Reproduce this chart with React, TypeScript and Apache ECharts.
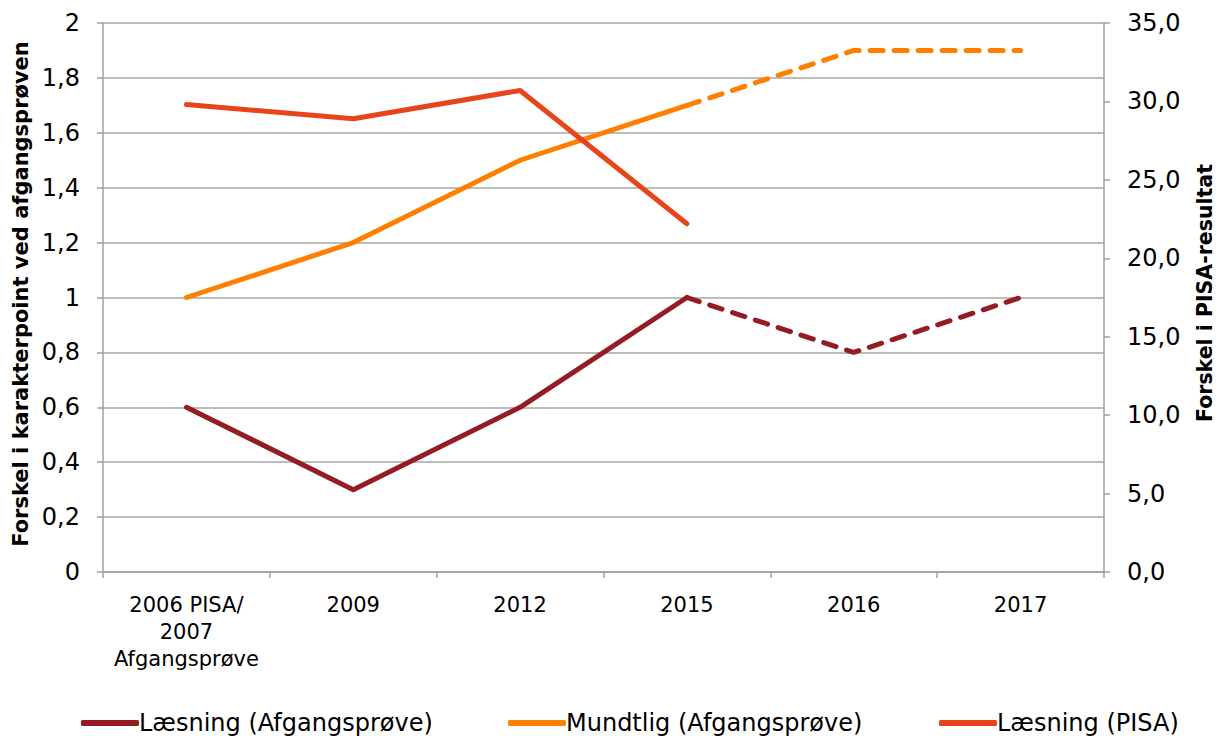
import React, { useEffect, useRef } from "react";
import * as echarts from "echarts";

const categories = ["2006 PISA/\n2007\nAfgangsprøve", "2009", "2012", "2015", "2016", "2017"];
const laesningAfgang = [0.6, 0.3, 0.6, 1.0, null, null];
const laesningAfgangDashed = [null, null, null, 1.0, 0.8, 1.0];
const mundtlig = [1.0, 1.2, 1.5, 1.7, null, null];
const mundtligDashed = [null, null, null, 1.7, 1.9, 1.9];
const laesningPisa = [29.8, 28.9, 30.7, 22.2, null, null];

const leftName = "Forskel i karakterpoint ved afgangsprøven";
const rightName = "Forskel i PISA-resultat";
const legendNames = ["Læsning (Afgangsprøve)", "Mundtlig (Afgangsprøve)", "Læsning (PISA)"];

const C1 = "#951b24";
const C2 = "#ff8000";
const C3 = "#e8441a";
const FONT = "DejaVu Sans";

export default function App() {
  const ref = useRef<HTMLDivElement>(null);
  useEffect(() => {
    document.body.style.margin = "0";
    const chart = echarts.init(ref.current!, null, { renderer: "svg" });
    const axisLine = { show: true, lineStyle: { color: "#a0a0a0", width: 1.5 } };
    const tick = { show: true, length: 6, lineStyle: { color: "#a0a0a0", width: 1.5 } };
    const legendLefts = [76, 503, 934];
    chart.setOption({
      animation: false,
      textStyle: { fontFamily: FONT },
      grid: { left: 103, right: 114, top: 23, bottom: 164, containLabel: false },
      legend: legendNames.map((n, i) => ({
        top: 706,
        left: legendLefts[i],
        itemWidth: 58,
        itemHeight: 6,
        icon: "roundRect",
        textStyle: { fontSize: 24, color: "#000", fontFamily: FONT, padding: [0, 0, 0, -5] },
        data: [n],
      })),
      graphic: [
        {
          type: "text",
          x: 21,
          y: 294,
          rotation: Math.PI / 2,
          style: {
            text: leftName,
            fontSize: 21,
            fontWeight: "bold",
            fontFamily: FONT,
            fill: "#000",
            textAlign: "center",
            textVerticalAlign: "middle",
          },
        },
        {
          type: "text",
          x: 1205,
          y: 293,
          rotation: Math.PI / 2,
          style: {
            text: rightName,
            fontSize: 20.5,
            fontWeight: "bold",
            fontFamily: FONT,
            fill: "#000",
            textAlign: "center",
            textVerticalAlign: "middle",
          },
        },
      ],
      xAxis: {
        type: "category",
        data: categories,
        boundaryGap: true,
        axisLine,
        axisTick: tick,
        axisLabel: { fontSize: 21, color: "#000", lineHeight: 27, margin: 19, interval: 0 },
      },
      yAxis: [
        {
          type: "value",
          min: 0,
          max: 2,
          interval: 0.2,
          axisLine,
          axisTick: tick,
          axisLabel: {
            fontSize: 24,
            color: "#000",
            margin: 23,
            formatter: (v: number) => {
              const r = Math.round(v * 10) / 10;
              return Number.isInteger(r) ? String(r) : r.toFixed(1).replace(".", ",");
            },
          },
          splitLine: { show: true, lineStyle: { color: "#a6a6a6", width: 1.5 } },
        },
        {
          type: "value",
          min: 0,
          max: 35,
          interval: 5,
          axisLine,
          axisTick: tick,
          axisLabel: {
            fontSize: 24,
            color: "#000",
            margin: 23,
            formatter: (v: number) => v.toFixed(1).replace(".", ","),
          },
          splitLine: { show: false },
        },
      ],
      series: [
        {
          name: legendNames[0],
          type: "line",
          data: laesningAfgang,
          yAxisIndex: 0,
          symbol: "none",
          color: C1,
          lineStyle: { color: C1, width: 5, cap: "round", join: "round" },
        },
        {
          name: "Læsning (Afgangsprøve) dashed",
          type: "line",
          data: laesningAfgangDashed,
          yAxisIndex: 0,
          symbol: "none",
          color: C1,
          lineStyle: { color: C1, width: 5, type: [13, 11], cap: "round" },
        },
        {
          name: legendNames[1],
          type: "line",
          data: mundtlig,
          yAxisIndex: 0,
          symbol: "none",
          color: C2,
          lineStyle: { color: C2, width: 5, cap: "round", join: "round" },
        },
        {
          name: "Mundtlig (Afgangsprøve) dashed",
          type: "line",
          data: mundtligDashed,
          yAxisIndex: 0,
          symbol: "none",
          color: C2,
          lineStyle: { color: C2, width: 5, type: [13, 11], cap: "round" },
        },
        {
          name: legendNames[2],
          type: "line",
          data: laesningPisa,
          yAxisIndex: 1,
          symbol: "none",
          color: C3,
          lineStyle: { color: C3, width: 5, cap: "round", join: "round" },
        },
      ],
    });
    return () => chart.dispose();
  }, []);
  return <div ref={ref} style={{ width: 1218, height: 736 }} />;
}
